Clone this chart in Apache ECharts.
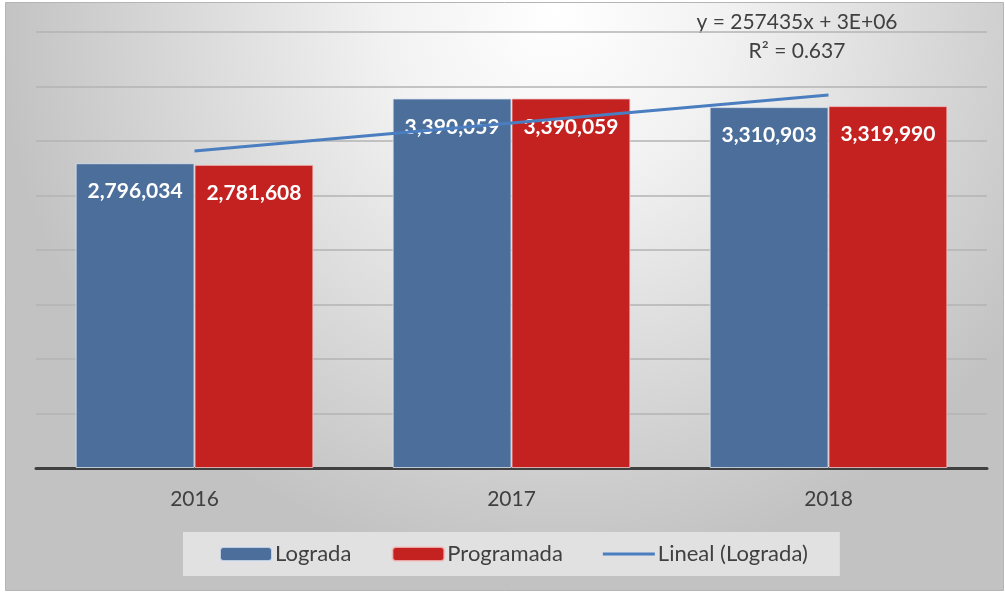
<!DOCTYPE html>
<html>
<head>
<meta charset="utf-8">
<script src="https://cdn.jsdelivr.net/npm/echarts@6/dist/echarts.min.js"></script>
<style>
html,body{margin:0;padding:0;background:#fff;}
#c{width:1005px;height:593px;}
</style>
</head>
<body>
<div id="c"></div>
<script>
const categories = ['2016', '2017', '2018'];
const lograda = [2796034, 3390059, 3310903];
const programada = [2781608, 3390059, 3319990];
const trendLograda = [2908231, 3165665, 3423100];
const trendEquation = 'y = 257435x + 3E+06';
const trendR2 = 'R² = 0.637';
const yTicks = [0, 500000, 1000000, 1500000, 2000000, 2500000, 3000000, 3500000, 4000000];

const FONT = 'Lato, "Open Sans", sans-serif';
const chart = echarts.init(document.getElementById('c'), null, {renderer: 'canvas'});

const labelCfg = {
  show: true,
  position: 'insideTop',
  distance: 18,
  color: '#ffffff',
  fontFamily: FONT,
  fontWeight: 'bold',
  fontSize: 21,
  formatter: p => p.value.toLocaleString('en-US')
};

chart.setOption({
  animation: false,
  backgroundColor: 'transparent',
  graphic: [
    {
      type: 'rect', z: -10, silent: true,
      shape: {x: 5.5, y: 2.5, width: 998, height: 588},
      style: {
        fill: {
          type: 'radial', x: 0.55, y: 0.02, r: 0.95,
          colorStops: [
            {offset: 0, color: '#ffffff'},
            {offset: 0.3, color: '#f2f2f2'},
            {offset: 1, color: '#c2c2c2'}
          ]
        },
        stroke: '#b5b5b5', lineWidth: 1
      }
    },
    {
      type: 'text', x: 797, y: 12, silent: true,
      style: {text: trendEquation, fontFamily: FONT, fontSize: 21, fill: '#404040', align: 'center'}
    },
    {
      type: 'text', x: 797, y: 41, silent: true,
      style: {text: trendR2, fontFamily: FONT, fontSize: 21, fill: '#404040', align: 'center'}
    }
  ],
  grid: {left: 36, right: 18, top: 32, bottom: 125, containLabel: false},
  legend: {
    left: 183, top: 532,
    padding: [11, 32, 11, 36],
    backgroundColor: '#e1e1e1',
    itemWidth: 52, itemHeight: 14, itemGap: 40,
    textStyle: {fontFamily: FONT, fontSize: 22, color: '#404040', padding: [0, 0, 0, -2]},
    data: [
      'Lograda',
      'Programada',
      {name: 'Lineal (Lograda)', icon: 'path://M0,0 L52,0 L52,3 L0,3 Z'}
    ]
  },
  xAxis: {
    type: 'category',
    data: categories,
    axisLine: {lineStyle: {color: '#404040', width: 3}},
    axisTick: {show: false},
    axisLabel: {fontFamily: FONT, fontSize: 21, color: '#404040', margin: 21}
  },
  yAxis: {
    type: 'value',
    min: yTicks[0], max: yTicks[yTicks.length - 1], interval: yTicks[1] - yTicks[0],
    axisLabel: {show: false},
    axisLine: {show: false},
    axisTick: {show: false},
    splitLine: {lineStyle: {color: '#b3b3b3', width: 1.5}}
  },
  series: [
    {
      name: 'Lograda', type: 'bar', data: lograda,
      barGap: '0%', barCategoryGap: '25%',
      itemStyle: {color: '#4b6e9a', borderColor: 'rgba(220,228,240,0.8)', borderWidth: 1},
      label: labelCfg, z: 2
    },
    {
      name: 'Programada', type: 'bar', data: programada,
      itemStyle: {color: '#c42220', borderColor: 'rgba(240,200,200,0.8)', borderWidth: 1},
      label: labelCfg, z: 2
    },
    {
      name: 'Lineal (Lograda)', type: 'line', data: trendLograda,
      symbol: 'none', z: 5,
      lineStyle: {color: '#4a7ec0', width: 3},
      itemStyle: {color: '#4a7ec0'}
    }
  ]
});
</script>
</body>
</html>
